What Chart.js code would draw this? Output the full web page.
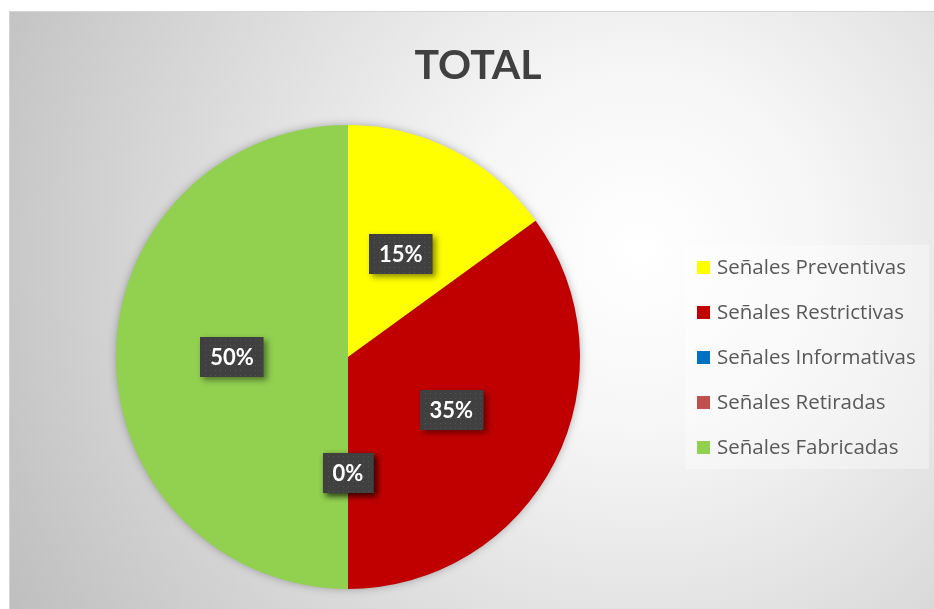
<!DOCTYPE html>
<html>
<head>
<meta charset="utf-8">
<script src="https://cdn.jsdelivr.net/npm/chart.js@4.4.1/dist/chart.umd.min.js"></script>
<style>
  html, body { margin: 0; padding: 0; background: #fff; }
  #wrap { width: 934px; height: 609px; position: relative; }
</style>
</head>
<body>
<div id="wrap"><canvas id="pie"></canvas></div>
<script>
const chartTitle = 'TOTAL';
const categories = ['Señales Preventivas', 'Señales Restrictivas', 'Señales Informativas', 'Señales Retiradas', 'Señales Fabricadas'];
const values = [15, 35, 0, 0, 50];
const sliceColors = ['#FFFF00', '#C00000', '#0070C0', '#C0504D', '#92D050'];

const FONT = 'Lato, "Open Sans", sans-serif';
const LEGEND_FONT = '"Open Sans", Lato, sans-serif';

// background, frame and title
const frame = {
  id: 'frame',
  beforeDraw(chart) {
    const ctx = chart.ctx;
    ctx.save();
    ctx.fillStyle = '#ffffff';
    ctx.fillRect(0, 0, chart.width, chart.height);
    const g = ctx.createRadialGradient(640, 250, 0, 640, 250, 720);
    g.addColorStop(0, '#ffffff');
    g.addColorStop(0.25, '#f6f6f6');
    g.addColorStop(1, '#bfbfbf');
    ctx.fillStyle = g;
    ctx.fillRect(9, 11, chart.width - 9, chart.height - 11);
    ctx.strokeStyle = '#d4d4d4';
    ctx.lineWidth = 1;
    ctx.beginPath();
    ctx.moveTo(9, 11.5); ctx.lineTo(chart.width, 11.5);
    ctx.moveTo(9.5, 11); ctx.lineTo(9.5, chart.height);
    ctx.stroke();

    ctx.fillStyle = '#404040';
    ctx.font = 'bold 41px ' + FONT;
    ctx.textAlign = 'center';
    ctx.textBaseline = 'alphabetic';
    ctx.fillText(chartTitle, 478, 79);
    ctx.restore();
  },
  beforeDatasetsDraw(chart) {
    const arc = chart.getDatasetMeta(0).data[0];
    if (!arc) return;
    const ctx = chart.ctx;
    ctx.save();
    ctx.shadowColor = 'rgba(0,0,0,0.35)';
    ctx.shadowBlur = 10;
    ctx.fillStyle = '#92D050';
    ctx.beginPath();
    ctx.arc(arc.x, arc.y, arc.outerRadius - 1, 0, Math.PI * 2);
    ctx.fill();
    ctx.restore();
  }
};

// data labels in dark boxes
const boxLabels = {
  id: 'boxLabels',
  afterDatasetsDraw(chart) {
    const ctx = chart.ctx;
    const meta = chart.getDatasetMeta(0);
    const total = values.reduce((a, b) => a + b, 0);
    ctx.save();
    ctx.font = 'bold 22px ' + FONT;
    ctx.textAlign = 'center';
    ctx.textBaseline = 'middle';
    meta.data.forEach((arc, i) => {
      const pos = arc.tooltipPosition();
      const txt = Math.round(values[i] / total * 100) + '%';
      const w = ctx.measureText(txt).width + 20;
      const h = 40;
      const x = Math.round(pos.x - w / 2), y = Math.round(pos.y - h / 2);
      ctx.save();
      ctx.shadowColor = 'rgba(0,0,0,0.45)';
      ctx.shadowBlur = 6;
      ctx.shadowOffsetX = 3;
      ctx.shadowOffsetY = 3;
      ctx.fillStyle = '#404040';
      ctx.fillRect(x, y, w, h);
      ctx.restore();
      ctx.fillStyle = '#555555';
      for (let yy = y + 3; yy < y + h - 1; yy += 5) {
        for (let xx = x + 3 + ((yy - y) % 10 ? 2 : 0); xx < x + w - 1; xx += 5) {
          ctx.fillRect(xx, yy, 1, 1);
        }
      }
      ctx.fillStyle = '#ffffff';
      ctx.fillText(txt, pos.x, pos.y + 1);
    });
    ctx.restore();
  }
};

// legend on the right
const sideLegend = {
  id: 'sideLegend',
  afterDraw(chart) {
    const ctx = chart.ctx;
    ctx.save();
    ctx.fillStyle = 'rgba(255,255,255,0.35)';
    ctx.fillRect(685, 245, 244, 224);
    ctx.font = '20.5px ' + LEGEND_FONT;
    ctx.textBaseline = 'middle';
    ctx.textAlign = 'left';
    categories.forEach((c, i) => {
      const cy = 267 + i * 45;
      ctx.fillStyle = sliceColors[i];
      ctx.fillRect(697, cy - 6, 13, 13);
      ctx.fillStyle = '#595959';
      ctx.fillText(c, 717, cy + 1);
    });
    ctx.restore();
  }
};

new Chart(document.getElementById('pie'), {
  type: 'pie',
  data: {
    labels: categories,
    datasets: [{
      data: values,
      backgroundColor: sliceColors,
      borderWidth: 0
    }]
  },
  options: {
    responsive: true,
    maintainAspectRatio: false,
    animation: false,
    layout: { padding: { left: 116, right: 354, top: 125, bottom: 20 } },
    plugins: {
      legend: { display: false },
      tooltip: { enabled: false },
      title: { display: false }
    }
  },
  plugins: [frame, boxLabels, sideLegend]
});
</script>
</body>
</html>
